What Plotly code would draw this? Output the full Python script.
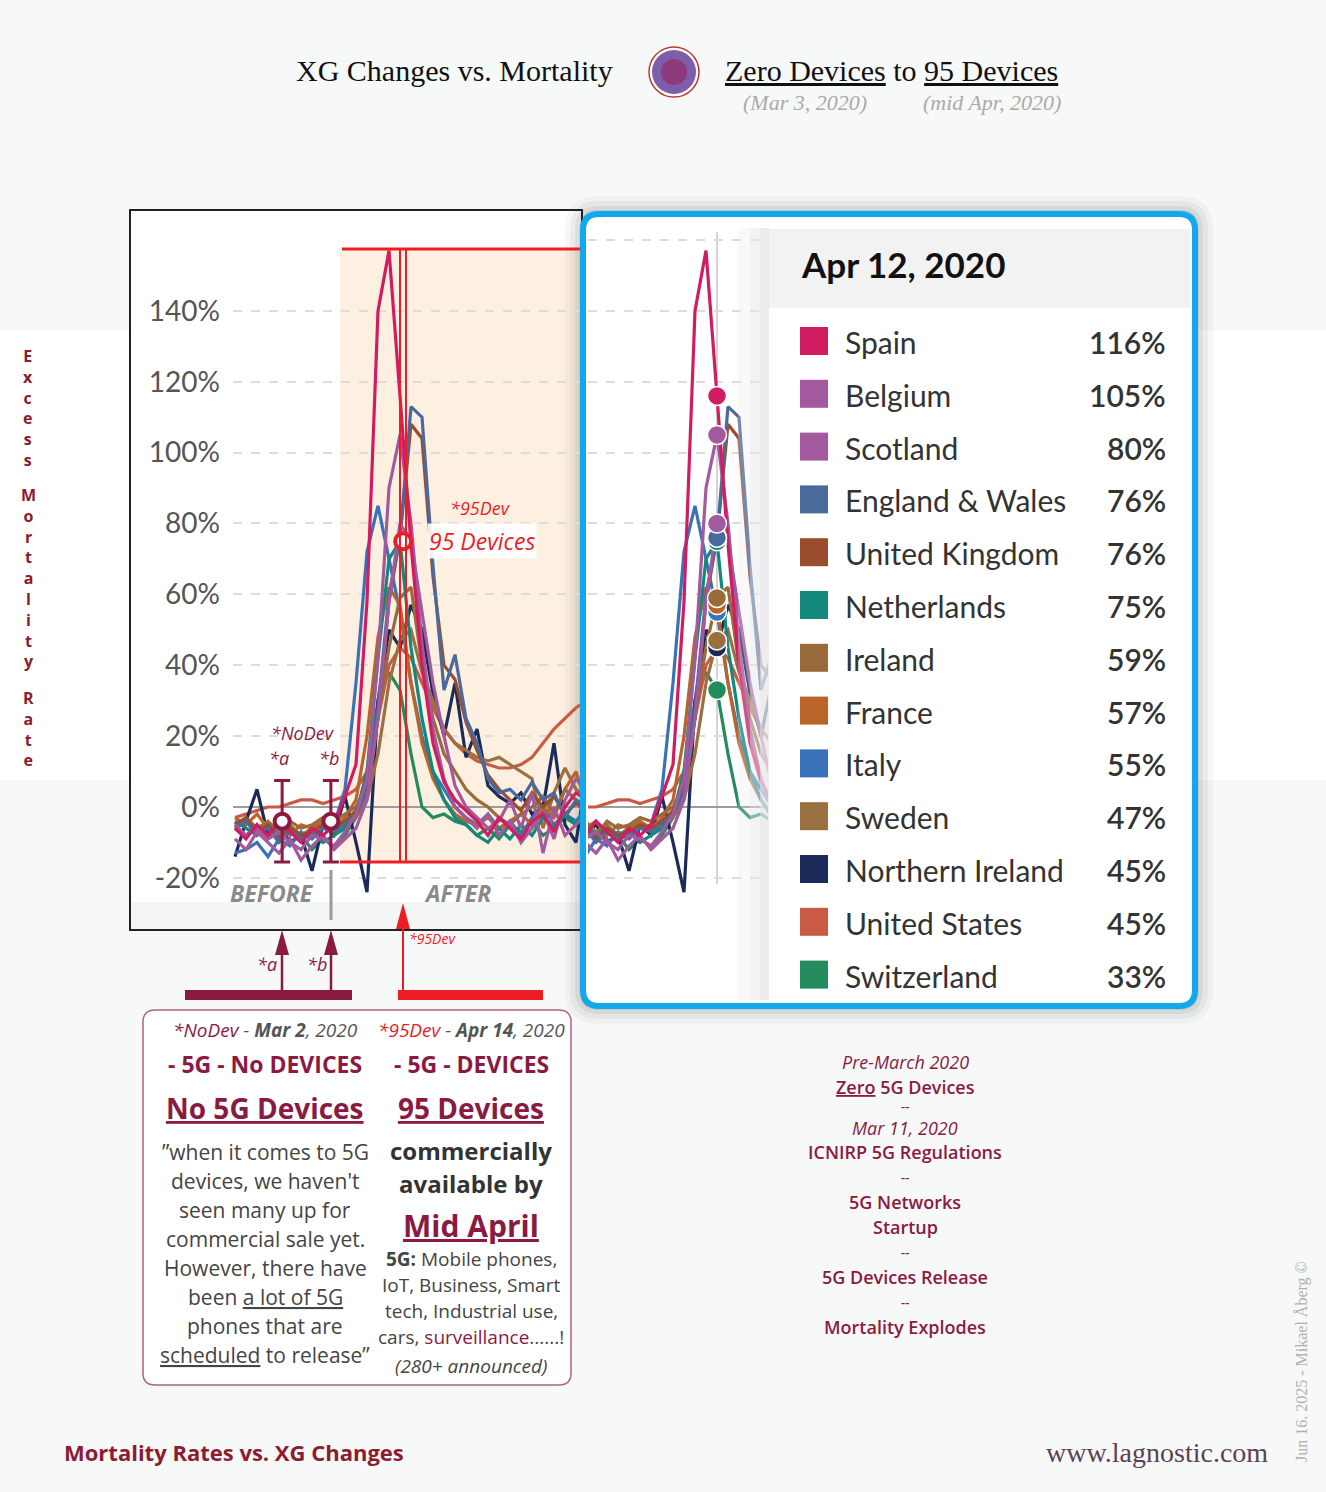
import pandas as pd
import plotly.graph_objects as go

W, H = 1326, 1492

# weekly excess mortality (P-scores, %), weeks ending on these dates
weeks = pd.date_range("2019-12-29", periods=33, freq="7D")

countries = ["Spain", "Belgium", "Scotland", "England & Wales", "United Kingdom",
             "Netherlands", "Ireland", "France", "Italy", "Sweden",
             "Northern Ireland", "United States", "Switzerland"]
colors = ["#d21c62", "#a3599d", "#a3599d", "#4b6a9c", "#9a4d2c",
          "#13897b", "#9a6b3a", "#b9652a", "#3a72b9", "#9a7040",
          "#1c2a5a", "#c95a44", "#238b5e"]

spain = [-6, -9, -5, -8, -4, -7, -10, -6, -8, -5, 3, 12, 58, 140, 157, 116, 74, 40, 18, 7, 2, -1, -4, -8, -3, -6, -9, -4, -2, -7, 0, 4, 2]
belgium = [-5, -8, -6, -9, -7, -10, -12, -8, -9, -11, -7, -2, 8, 42, 90, 105, 80, 46, 22, 8, 0, -3, -6, -2, -8, -4, -10, -6, -1, -9, 2, 8, 4]
scotland = [-9, -12, -7, -10, -13, -9, -15, -11, -8, -12, -9, -6, 2, 25, 58, 80, 75, 55, 35, 20, 6, 0, -3, -6, -4, 2, -6, 4, -13, 0, -8, -5, -2]
eng_wales = [-6, -4, -8, -6, -10, -7, -9, -8, -6, -7, -5, -2, 4, 28, 60, 76, 113, 110, 68, 33, 43, 25, 18, 8, 4, 5, 2, 7, 2, 4, -3, 2, 0]
uk = [-5, -3, -7, -5, -9, -6, -8, -7, -5, -6, -4, -1, 5, 25, 58, 76, 108, 104, 65, 40, 36, 24, 16, 9, 5, 2, -1, 4, 0, 3, -2, 1, -1]
netherlands = [-4, -6, -8, -5, -8, -6, -9, -7, -10, -8, -6, -2, 10, 42, 70, 75, 45, 25, 10, 2, -3, -5, -8, -10, -6, -9, -5, -8, -3, -6, -2, -5, 0]
ireland = [-6, -4, -7, -5, -8, -4, -6, -5, -3, -4, -2, 0, 6, 25, 45, 59, 62, 40, 25, 15, 10, 5, 2, 0, -3, -5, -2, 0, 3, -2, 5, 2, -1]
france = [-3, -5, -2, -6, -4, -8, -5, -6, -4, -6, -3, 2, 20, 48, 62, 57, 35, 18, 8, 2, -2, -4, -5, -3, -6, -4, -2, -5, 0, -3, 5, 10, 0]
italy = [-13, -12, -10, -14, -9, -11, -7, -9, -6, -5, 5, 35, 72, 85, 70, 55, 35, 20, 10, 5, 0, -3, -5, -2, -6, -4, -8, -3, 0, -5, -2, -4, 0]
sweden = [-5, -3, -6, -4, -7, -5, -8, -6, -4, -7, -5, -3, 2, 15, 35, 47, 50, 38, 30, 22, 18, 16, 14, 13, 14, 12, 10, 8, -6, 4, 11, 5, 3]
n_ireland = [-14, -4, 5, -8, -5, -10, -8, -18, -5, -8, 3, -10, -24, 30, 50, 45, 57, 50, 32, 20, 35, 14, 22, 6, 3, 1, 4, -2, 0, 18, -5, -10, 10]
usa = [-3, -2, -1, 0, 0, 1, 2, 2, 1, 2, 3, 5, 10, 25, 40, 45, 42, 35, 28, 22, 18, 15, 13, 12, 11, 11, 12, 14, 18, 22, 25, 28, 30]
switzerland = [-6, -8, -5, -9, -7, -10, -8, -12, -9, -11, -8, -3, 10, 30, 38, 33, 15, 0, -3, -2, -4, -5, -8, -6, -9, -5, -7, -4, -8, -6, -3, -5, -2]

series = [spain, belgium, scotland, eng_wales, uk, netherlands, ireland,
          france, italy, sweden, n_ireland, usa, switzerland]

tooltip_idx = 15  # Apr 12, 2020
nodev_dates = ["2020-01-28", "2020-02-28"]
nodev_vals = [-4, -4]
nodev_err = [11.5, 11.5]
dev_date = ["2020-04-14"]
dev_val = [75]


def week_at(px):
    # pixel column of the left chart -> date
    return weeks[0] + pd.Timedelta(days=((px - 389) / 11 + 14) * 7)


def P(x, y):
    return f"{x / W:.5f},{1 - y / H:.5f}"


def rrect(x0, y0, x1, y1, r):
    return (f"M{P(x0 + r, y0)} L{P(x1 - r, y0)} Q{P(x1, y0)} {P(x1, y0 + r)} "
            f"L{P(x1, y1 - r)} Q{P(x1, y1)} {P(x1 - r, y1)} L{P(x0 + r, y1)} "
            f"Q{P(x0, y1)} {P(x0, y1 - r)} L{P(x0, y0 + r)} Q{P(x0, y0)} {P(x0 + r, y0)} Z")


shapes = []
ann = []


def rect(x0, y0, x1, y1, fill, line=None, lw=0, layer="below"):
    shapes.append(dict(type="rect", xref="paper", yref="paper", x0=x0 / W, x1=x1 / W,
                       y0=1 - y1 / H, y1=1 - y0 / H, fillcolor=fill, layer=layer,
                       line=dict(color=line or fill, width=lw)))


def path(d, fill, line=None, lw=0, layer="below"):
    shapes.append(dict(type="path", xref="paper", yref="paper", path=d, fillcolor=fill,
                       layer=layer, line=dict(color=line or fill, width=lw)))


def seg(x0, y0, x1, y1, color, lw, layer="below", dash=None):
    shapes.append(dict(type="line", xref="paper", yref="paper", x0=x0 / W, x1=x1 / W,
                       y0=1 - y0 / H, y1=1 - y1 / H, layer=layer,
                       line=dict(color=color, width=lw, dash=dash)))


def txt(x, y, s, size, color, anchor="center", family="Open Sans", weight="normal",
        style="normal", angle=0, bg=None):
    a = dict(x=x / W, y=1 - y / H, xref="paper", yref="paper", text=s, showarrow=False,
             xanchor=anchor, yanchor="middle", textangle=angle,
             font=dict(size=size, color=color, family=family, weight=weight, style=style))
    if bg:
        a["bgcolor"] = bg
    ann.append(a)


MAROON = "#8b1a42"
RED = "#ee1c25"

# backgrounds
rect(0, 330, W, 780, "white")
# left chart frame
rect(130, 210, 582, 930, "white", "#222", 2)
rect(131, 902, 581, 929, "#f4f6f6")
# after region
rect(340, 249, 580, 862, "#fdf0e0")

# right panel shadow + frame
for k, op in [(18, 0.04), (13, 0.05), (8, 0.07), (4, 0.09)]:
    path(rrect(583 - k, 214 - k, 1195 + k, 1006 + k, 16 + k), f"rgba(40,40,40,{op})")
path(rrect(583, 214, 1195, 1006, 16), "white", "#12a9ec", 6)
# tooltip
rect(768, 229, 1190, 308, "#f2f2f2")

# red "after" frame lines
seg(342, 249, 580, 249, RED, 3, "above")
seg(340, 862, 580, 862, RED, 3, "above")
seg(400, 249, 400, 862, RED, 2, "above")
seg(406, 249, 406, 862, RED, 2, "above")
# before/after divider
seg(331, 870, 331, 920, "#9a9a9a", 3, "above")

# arrows under the chart
rect(185, 990, 352, 1000, MAROON)
rect(398, 990, 543, 1000, RED)
for ax_ in (282, 331):
    seg(ax_, 990, ax_, 952, MAROON, 2.5)
    path(f"M{P(ax_ - 7, 955)} L{P(ax_, 930)} L{P(ax_ + 7, 955)} Z", MAROON)
seg(403, 990, 403, 926, RED, 2, "above")
path(f"M{P(396, 929)} L{P(403, 903)} L{P(410, 929)} Z", RED, layer="above")

# explanation box
path(rrect(143, 1010, 571, 1385, 12), "white", "#b0637f", 1.5)

# title icon
shapes.append(dict(type="circle", xref="paper", yref="paper", x0=649 / W, x1=699 / W,
                   y0=1 - 97 / H, y1=1 - 47 / H, fillcolor="white", line=dict(color="#c0392b", width=1.5)))
shapes.append(dict(type="circle", xref="paper", yref="paper", x0=652 / W, x1=696 / W,
                   y0=1 - 94 / H, y1=1 - 50 / H, fillcolor="#7e5ea8", line=dict(width=0)))
shapes.append(dict(type="circle", xref="paper", yref="paper", x0=661 / W, x1=687 / W,
                   y0=1 - 85 / H, y1=1 - 59 / H, fillcolor="#8c3a7c", line=dict(width=0)))

fig = go.Figure()

for k in reversed(range(len(countries))):
    for xa, ya in (("x", "y"), ("x2", "y2")):
        fig.add_trace(go.Scatter(x=weeks, y=series[k], mode="lines", xaxis=xa, yaxis=ya,
                                 line=dict(color=colors[k], width=3.2), showlegend=False,
                                 hoverinfo="skip", name=countries[k]))

# tooltip dots
tip_vals = [s[tooltip_idx] for s in series]
fig.add_trace(go.Scatter(x=[weeks[tooltip_idx]] * len(countries), y=tip_vals[::-1], mode="markers",
                         xaxis="x2", yaxis="y2", showlegend=False, hoverinfo="skip",
                         marker=dict(size=19, color=colors[::-1], line=dict(color="white", width=1.5))))

# *NoDev markers and 95 devices marker
fig.add_trace(go.Scatter(x=nodev_dates, y=nodev_vals, mode="markers", showlegend=False, hoverinfo="skip",
                         error_y=dict(type="data", array=nodev_err, color=MAROON, thickness=3, width=8),
                         marker=dict(size=15, color="white", line=dict(color=MAROON, width=4))))
fig.add_trace(go.Scatter(x=dev_date, y=dev_val, mode="markers", showlegend=False, hoverinfo="skip",
                         marker=dict(size=16, color="white", line=dict(color=RED, width=4))))

# hover line in right panel
shapes.append(dict(type="line", xref="x2", yref="paper", x0=weeks[tooltip_idx], x1=weeks[tooltip_idx],
                   y0=1 - 884 / H, y1=1 - 232 / H, layer="below", line=dict(color="#d4d4d4", width=2)))
# fade at tooltip edge
for x0, op in [(738, 0.25), (750, 0.35), (760, 0.5)]:
    rect(x0, 228, 769, 1000, f"rgba(232,232,234,{op})", layer="above")

# legend rows in tooltip
row_y0, row_dy = 342, 52.8
for k, name in enumerate(countries):
    yy = row_y0 + k * row_dy
    rect(800, yy - 15, 828, yy + 13, colors[k])
    txt(843, yy, name, 30, "#333", "left", "Lato")
    txt(1168, yy, f"{tip_vals[k]}%", 30, "#333", "right", "Lato", 600)
txt(799, 264, "Apr 12, 2020", 35, "#111", "left", "Lato", "bold")

# chart annotations
txt(403 + 24, 541, "95 Devices", 23, RED, "left", style="italic", bg="rgba(255,255,255,0.9)")
txt(480, 508, "*95Dev", 18, RED, style="italic")
txt(303, 733, "*NoDev", 18, MAROON, style="italic")
txt(279, 758, "*a", 18, MAROON, style="italic")
txt(329, 758, "*b", 18, MAROON, style="italic")
txt(272, 893, "BEFORE", 23, "#8a8a8a", weight="bold", style="italic")
txt(457, 893, "AFTER", 23, "#8a8a8a", weight="bold", style="italic")
txt(267, 964, "*a", 18, MAROON, style="italic")
txt(317, 964, "*b", 18, MAROON, style="italic")
txt(407, 938, "*95Dev", 14, RED, "left", style="italic")

# header
txt(454, 70, "XG Changes vs. Mortality", 30, "#111", family="Liberation Serif")
txt(891, 70, "<u>Zero Devices</u> to <u>95 Devices</u>", 30, "#111", family="Liberation Serif")
txt(805, 102, "(Mar 3, 2020)", 22, "#aaa", family="Liberation Serif", style="italic")
txt(992, 102, "(mid Apr, 2020)", 22, "#aaa", family="Liberation Serif", style="italic")

# y axis title as stacked letters, one block per word
for word, cy in [("Excess", 408), ("Mortality", 578.5), ("Rate", 728.5)]:
    txt(28, cy, "<br>".join(word), 16, "#8b1a2b", weight="bold")

# explanation box text
txt(265, 1030, f'<span style="color:{MAROON}">*NoDev</span> - <b>Mar 2</b>, 2020', 19, "#555", style="italic")
txt(471, 1030, f'<span style="color:{RED}">*95Dev</span> - <b>Apr 14</b>, 2020', 19, "#555", style="italic")
txt(265, 1064, "- 5G - No DEVICES", 23, MAROON, weight="bold")
txt(471, 1064, "- 5G - DEVICES", 23, MAROON, weight="bold")
txt(265, 1108, "<u>No 5G Devices</u>", 28, MAROON, weight="bold")
txt(471, 1108, "<u>95 Devices</u>", 28, MAROON, weight="bold")
quote = ["”when it comes to 5G", "devices, we haven't", "seen many up for", "commercial sale yet.",
         "However, there have", "been <u>a lot of 5G</u>", "phones that are", "<u>scheduled</u> to release”"]
for k, line in enumerate(quote):
    txt(265, 1152 + k * 29, line, 21, "#444")
txt(471, 1150, "commercially", 24, "#333", weight="bold")
txt(471, 1183, "available by", 24, "#333", weight="bold")
txt(471, 1225, "<u>Mid April</u>", 30, MAROON, weight="bold")
uses = ["<b>5G:</b> Mobile phones,", "IoT, Business, Smart", "tech, Industrial use,",
        f'cars, <span style="color:{MAROON}">surveillance</span>......!']
for k, line in enumerate(uses):
    txt(471, 1259 + k * 26, line, 19, "#444")
txt(471, 1366, "(280+ announced)", 19, "#444", style="italic")

# timeline column
timeline = [("Pre-March 2020", "italic", 1062), ("<u>Zero</u> 5G Devices", "normal", 1087),
            ("--", "normal", 1106), ("Mar 11, 2020", "italic", 1128),
            ("ICNIRP 5G Regulations", "normal", 1152), ("--", "normal", 1177),
            ("5G Networks", "normal", 1202), ("Startup", "normal", 1227), ("--", "normal", 1252),
            ("5G Devices Release", "normal", 1277), ("--", "normal", 1302),
            ("Mortality Explodes", "normal", 1327)]
for s, st, yy in timeline:
    size = 13 if s == "--" else 18
    txt(905, yy, s, size, MAROON, weight="normal" if st == "italic" else 600, style=st)

# footer
txt(62, 1452, "Mortality Rates vs. XG Changes", 22, "#8c1c30", "left", weight="bold")
txt(1270, 1452, "www.lagnostic.com", 28, "#5b4256", "right", family="Liberation Serif")
txt(1302, 1362, "Jun 16. 2025 - Mikael Åberg ©", 16, "#b0b0b0", family="Liberation Serif", angle=-90)

ydom = [1 - 930 / H, 1 - 210 / H]
yrng = [(807 - 930) / 3.544, (807 - 210) / 3.544]
grid = dict(gridcolor="#dcdcdc", griddash="dash", gridwidth=1.5, zeroline=True,
            zerolinecolor="#9c9c9c", zerolinewidth=2, range=yrng, domain=ydom, fixedrange=True)

fig.update_layout(
    width=W, height=H, margin=dict(l=0, r=0, t=0, b=0),
    paper_bgcolor="#f7f8f8", plot_bgcolor="rgba(0,0,0,0)",
    font=dict(family="Lato"),
    xaxis=dict(domain=[233 / W, 580 / W], range=[week_at(233), week_at(580)],
               showgrid=False, showticklabels=False, zeroline=False, showline=False, fixedrange=True),
    yaxis=dict(tickvals=list(range(-20, 141, 20)), ticktext=[f"{v}%" for v in range(-20, 141, 20)],
               tickfont=dict(family="Lato", size=28, color="#555"), ticks="", ticklabelstandoff=12,
               **grid),
    xaxis2=dict(domain=[588 / W, 768 / W], range=[week_at(588 - 317), week_at(768 - 317)],
                anchor="y2", showgrid=False, showticklabels=False, zeroline=False, fixedrange=True),
    yaxis2=dict(anchor="x2", tickvals=list(range(-20, 161, 20)), showticklabels=False, ticks="", **grid),
    shapes=shapes, annotations=ann, hovermode=False,
)

fig.write_html("out.html", config={"displayModeBar": False},
               post_script="document.body.style.margin='0';document.body.style.background='#f7f8f8';")
